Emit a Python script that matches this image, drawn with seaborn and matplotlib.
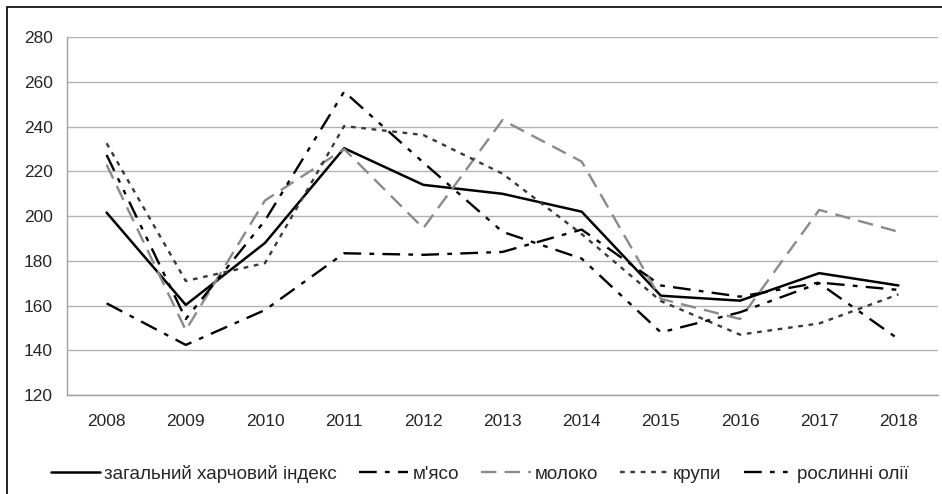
import matplotlib
matplotlib.use("Agg")
import matplotlib.pyplot as plt
from matplotlib.patches import Rectangle
import seaborn as sns

years = ["2008", "2009", "2010", "2011", "2012", "2013", "2014", "2015", "2016", "2017", "2018"]
food_index = [201.6, 160.3, 188, 230.4, 214, 210, 202, 164.4, 162.2, 174.5, 169]
meat = [161, 142.4, 158, 183.4, 182.7, 184, 194, 169, 164, 170.3, 167]
milk = [223, 149, 207, 230, 194.6, 243, 224.4, 163, 154, 202.8, 193]
cereals = [232.6, 171, 179, 240.3, 236.3, 219, 192, 162, 147, 152, 165]
oils = [227.4, 154, 198, 255.7, 224, 193, 181, 148, 157, 170, 145]

series_names = ["загальний харчовий індекс", "м'ясо", "молоко", "крупи", "рослинні олії"]

sns.set_style("white")
plt.rcParams["font.family"] = ["Liberation Sans", "DejaVu Sans"]

fig = plt.figure(figsize=(9.42, 4.94), dpi=100)
ax = fig.add_axes([67 / 942, 99 / 494, 871 / 942, 357.7 / 494])

# рамка навколо всього рисунка
fig.patches.append(Rectangle((7 / 942, -0.05), 1.0, 1 - 7 / 494 + 0.05,
                             transform=fig.transFigure, fill=False,
                             edgecolor="black", linewidth=1.2))

x = list(range(len(years)))
styles = [
    dict(color="black", linestyle="-", linewidth=1.8),
    dict(color="black", linestyle=(0, (7.5, 3.5, 2, 3.5)), linewidth=1.7),
    dict(color="#8a8a8a", linestyle=(0, (6.5, 3.5)), linewidth=1.7),
    dict(color="#3a3a3a", linestyle=(0, (2, 2.4)), linewidth=1.7),
    dict(color="black", linestyle=(0, (7.5, 3.5, 2, 3.5, 2, 3.5)), linewidth=1.7),
]
for vals, name, st in zip([food_index, meat, milk, cereals, oils], series_names, styles):
    sns.lineplot(x=x, y=vals, ax=ax, label=name, **st)

ax.set_xlim(-0.5, len(years) - 0.5)
ax.set_ylim(120, 280)
ax.set_yticks(range(120, 281, 20))
ax.set_xticks(x)
ax.set_xticklabels(years)
ax.set_xticks([i - 0.5 for i in range(len(years) + 1)], minor=True)
ax.tick_params(axis="x", which="major", length=0, labelsize=12.5, pad=14)
ax.tick_params(axis="x", which="minor", length=4, color="#a0a0a0", width=1)
ax.tick_params(axis="y", length=4, color="#a0a0a0", width=1, labelsize=12.5, pad=6)
ax.grid(axis="y", color="#b4b4b4", linewidth=1)
ax.set_axisbelow(True)
for side in ["top", "right"]:
    ax.spines[side].set_visible(False)
for side in ["left", "bottom"]:
    ax.spines[side].set_color("#a0a0a0")
    ax.spines[side].set_linewidth(1)

ax.get_legend().remove()
handles, labels = ax.get_legend_handles_labels()
fig.legend(handles, labels, loc="center", bbox_to_anchor=(480 / 942, 1 - 474 / 494),
           ncol=5, frameon=False, fontsize=13.6, handlelength=2.6,
           handletextpad=0.2, columnspacing=1.2, borderpad=0, borderaxespad=0)

fig.savefig("out.png", dpi=100)
